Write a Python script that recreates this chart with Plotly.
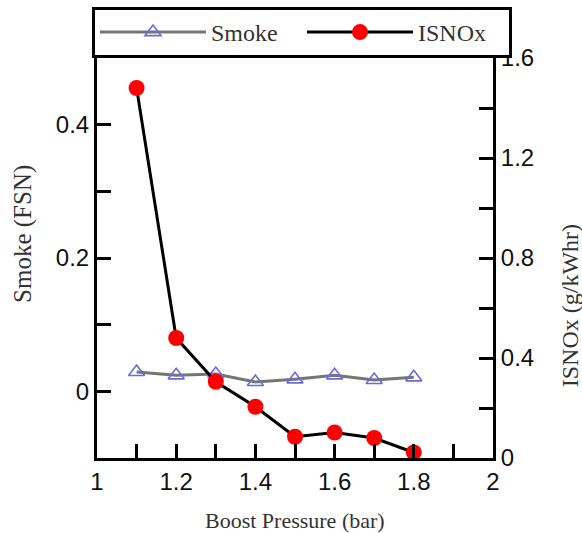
import plotly.graph_objects as go

boost_pressure = [1.1, 1.2, 1.3, 1.4, 1.5, 1.6, 1.7, 1.8]
smoke_fsn = [0.029, 0.024, 0.026, 0.014, 0.018, 0.024, 0.017, 0.021]
isnox = [1.48, 0.48, 0.305, 0.205, 0.085, 0.102, 0.08, 0.022]

x_title = "Boost Pressure (bar)"
y_title = "Smoke (FSN)"
y2_title = "ISNOx (g/kWhr)"

serif = "Liberation Serif, Times New Roman, serif"
sans = "Liberation Sans, Arial, sans-serif"

fig = go.Figure()
fig.add_trace(go.Scatter(
    x=boost_pressure, y=smoke_fsn, name="Smoke", mode="lines+markers",
    line=dict(color="#757575", width=3),
    marker=dict(symbol="triangle-up-open", size=14, color="#6a6ae0",
                line=dict(width=1.6, color="#6a6ae0")),
    yaxis="y"))
fig.add_trace(go.Scatter(
    x=boost_pressure, y=isnox, name="ISNOx", mode="lines+markers",
    line=dict(color="black", width=3),
    marker=dict(symbol="circle", size=16, color="#ff0000"),
    yaxis="y2"))

axis_common = dict(showline=True, linecolor="black", linewidth=3,
                   ticks="inside", ticklen=14, tickwidth=3, tickcolor="black",
                   showgrid=False, zeroline=False,
                   tickfont=dict(family=sans, size=24, color="#111"))
minor_common = dict(ticks="inside", ticklen=14, tickwidth=3, tickcolor="black")

fig.update_layout(
    width=582, height=533,
    margin=dict(l=97, r=89, t=58, b=75, autoexpand=False),
    plot_bgcolor="white", paper_bgcolor="white",
    xaxis=dict(range=[1, 2], dtick=0.2, tick0=1,
               minor=dict(dtick=0.1, **minor_common),
               **axis_common),
    yaxis=dict(range=[-0.1, 0.5], tickvals=[0, 0.2, 0.4], ticktext=["0", "0.2", "0.4"],
               minor=dict(tickvals=[-0.1, 0.1, 0.3, 0.5], **minor_common),
               **axis_common),
    yaxis2=dict(range=[0, 1.6], tickvals=[0, 0.4, 0.8, 1.2, 1.6],
                ticktext=["0", "0.4", "0.8", "1.2", "1.6"],
                minor=dict(dtick=0.2, tick0=0, **minor_common),
                overlaying="y", side="right", anchor="x",
                **axis_common),
    showlegend=True,
    legend=dict(orientation="h", x=(92 - 97) / 396, y=(458 - 7) / 400,
                xanchor="left", yanchor="top",
                bordercolor="black", borderwidth=3, bgcolor="white",
                entrywidth=86, font=dict(family=serif, size=24, color="#333"),
                itemwidth=106, tracegroupgap=0),
    annotations=[
        dict(text=x_title, xref="paper", yref="paper", x=0.5, y=-0.155,
             xanchor="center", yanchor="middle", showarrow=False,
             font=dict(family=serif, size=22, color="#333")),
        dict(text=y_title, xref="paper", yref="paper", x=-0.187, y=0.56,
             xanchor="center", yanchor="middle", showarrow=False, textangle=-90,
             font=dict(family=serif, size=25, color="#333")),
        dict(text=y2_title, xref="paper", yref="paper", x=1.195, y=0.38,
             xanchor="center", yanchor="middle", showarrow=False, textangle=-90,
             font=dict(family=serif, size=24, color="#333")),
    ],
)

fig.write_html("out.html")
